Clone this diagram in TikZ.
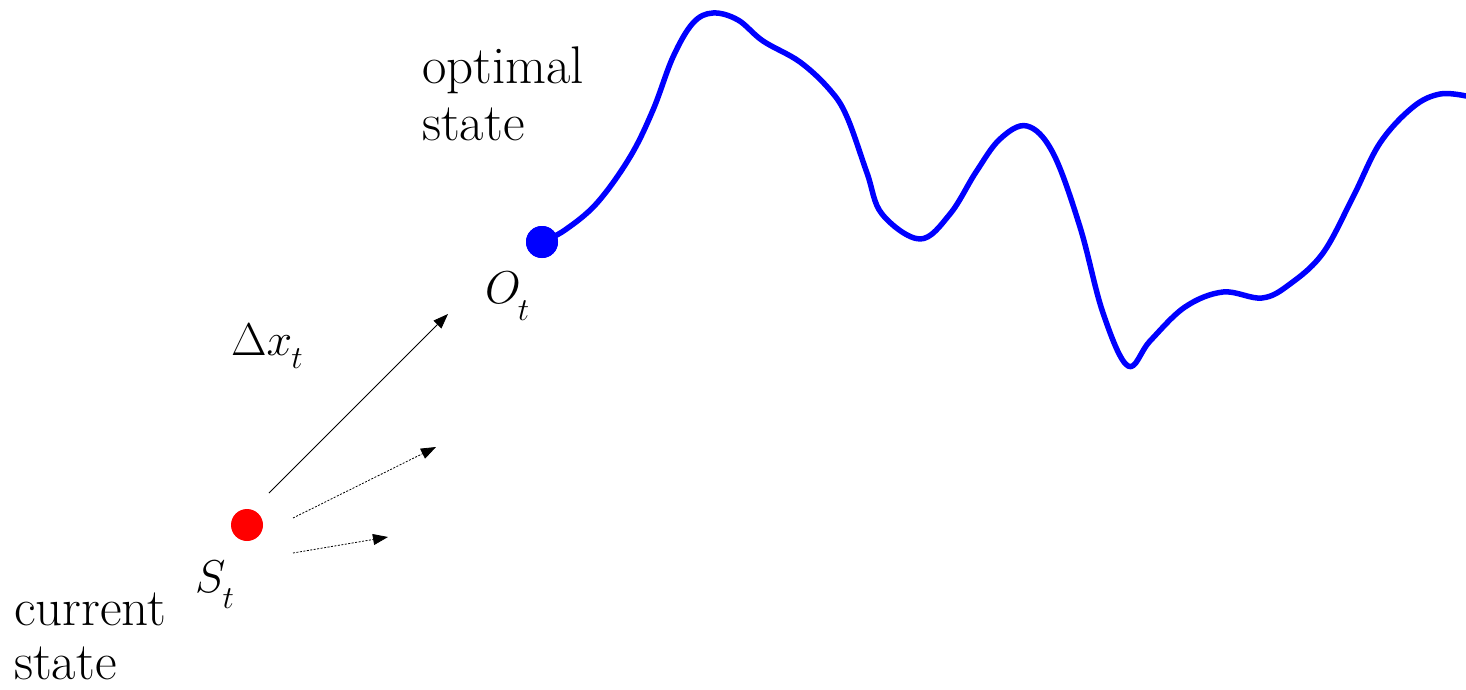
\RequirePackage{fix-cm}
\documentclass[tikz,border=0pt]{standalone}
\usetikzlibrary{arrows.meta}
\newcommand{\lowsub}[2][16pt]{\raisebox{-#1}{\fontsize{32}{32}\selectfont$#2$}}
\begin{document}
\begin{tikzpicture}[x=1pt,y=-1pt,
  lbl/.style={inner sep=0pt,font=\fontsize{53}{56}\selectfont},
  mlbl/.style={inner sep=0pt,font=\fontsize{46}{50}\selectfont},
  dot/.style={circle,inner sep=0pt,minimum size=32pt},
  tip/.style={-{Triangle[length=15pt,width=11pt]}},
  stepline/.style={tip,line width=0.8pt},
  trial/.style={tip,line width=0.8pt,dash pattern=on 2pt off 1.5pt},
  curve/.style={blue,line width=5.5pt,line join=round,line cap=round}]
\useasboundingbox (0,0) rectangle (1466,690);

% optimal trajectory
\node[dot,fill=blue] (O) at (542,242) {};
\draw[curve] plot[smooth,tension=0.6] coordinates {
  (542,242) (565,230) (597,203) (630,157) (653,110) (673,57) (693,23) (713,13)
  (738,20) (763,41) (800,62) (830,90) (847,117) (867,173) (882,214)
  (920,239) (950,214) (976,172) (1000,139) (1027,126) (1053,153) (1080,227)
  (1103,313) (1128,366) (1150,341) (1185,307) (1223,292) (1262,298) (1290,284)
  (1323,253) (1353,197) (1380,143) (1413,107) (1440,94) (1466,96)};
\node[dot,fill=blue] at (O) {};

% current state
\node[dot,fill=red] (S) at (247,525) {};

% step arrows
\coordinate (a0) at (269,493);
\coordinate (a1) at (448,314);
\coordinate (b0) at (293,518);
\coordinate (b1) at (436,447);
\coordinate (c0) at (293,553);
\coordinate (c1) at (388,537);
\draw[stepline] (a0) -- (a1);
\draw[trial] (b0) -- (b1);
\draw[trial] (c0) -- (c1);

% labels
\node[mlbl,anchor=base west] (St) at (195,592) {$S$\kern-3pt\lowsub{t}};
\node[mlbl,anchor=base west] (Ot) at (485,303) {$O$\kern-3pt\lowsub[17pt]{t}};
\node[mlbl,anchor=base west] (dx) at (231,355) {$\Delta x$\kern-1pt\lowsub[13pt]{t}};
\node[lbl,anchor=base west] (opt1) at (422,84) {optimal};
\node[lbl,anchor=base west] (opt2) at (422,140) {state};
\node[lbl,anchor=base west] (cur1) at (14,625) {current};
\node[lbl,anchor=base west] (cur2) at (14,679) {state};
\end{tikzpicture}
\end{document}
